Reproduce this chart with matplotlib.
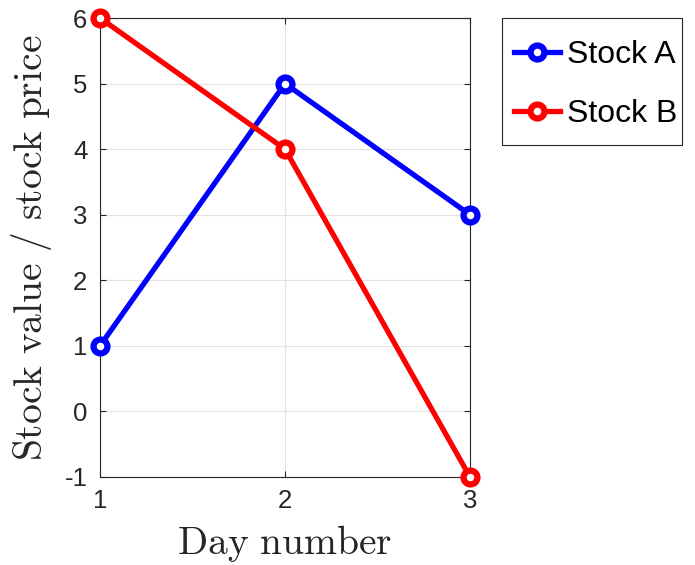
import matplotlib.pyplot as plt
from matplotlib.patches import Rectangle

days = [1, 2, 3]
stock_a = [1, 5, 3]
stock_b = [6, 4, -1]
series_names = ["Stock A", "Stock B"]
y_ticks = [-1, 0, 1, 2, 3, 4, 5, 6]

plt.rcParams['font.family'] = ['Liberation Sans', 'DejaVu Sans']
plt.rcParams['mathtext.fontset'] = 'cm'
plt.rcParams['axes.unicode_minus'] = False

W, H = 695, 565
fig = plt.figure(figsize=(W / 100, H / 100), dpi=100)
ax = fig.add_axes([100 / W, 1 - 477 / H, 370 / W, 459 / H])

ax.plot(days, stock_a, color='blue', lw=3.8, marker='o', ms=10, mew=4.5,
        mfc='white', label=series_names[0], clip_on=False, zorder=3)
ax.plot(days, stock_b, color='red', lw=3.8, marker='o', ms=10, mew=4.5,
        mfc='white', label=series_names[1], clip_on=False, zorder=3)

ax.set_xlim(1, 3)
ax.set_ylim(-1, 6)
ax.set_xticks(days)
ax.set_yticks(y_ticks)
ax.grid(True, color='#e2e2e2', lw=0.8)
ax.set_axisbelow(True)
ax.tick_params(direction='in', length=4, labelsize=18.5, top=True, right=True,
               colors='#262626', pad=9)
for s in ax.spines.values():
    s.set_color('#262626')
    s.set_linewidth(0.8)

ax.set_xlabel(r'$\mathrm{Day\ number}$', fontsize=28.5, color='#262626', labelpad=7)
ax.set_ylabel(r'$\mathrm{Stock\ value\ /\ stock\ price}$', fontsize=28.5,
              color='#262626', labelpad=8)

# legend box drawn by hand so its padding can match
fig.patches.append(Rectangle((502 / W, 1 - 145 / H), 180 / W, 127 / H,
                             transform=fig.transFigure, fill=False,
                             edgecolor='#262626', lw=0.8))
fig.legend(loc='upper left', bbox_to_anchor=(514 / W, 1 - 40 / H),
           fontsize=23, frameon=False, handlelength=1.45, handletextpad=0.2,
           borderpad=0, labelspacing=0.92, borderaxespad=0)

fig.savefig('out.png', dpi=100)
